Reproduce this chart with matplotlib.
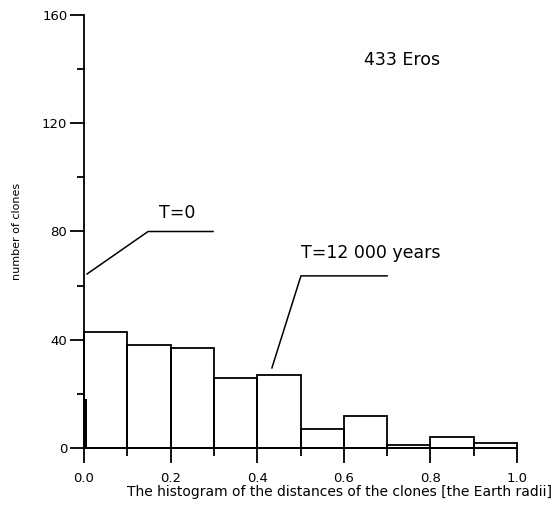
import matplotlib
matplotlib.use("Agg")
import matplotlib.pyplot as plt
import numpy as np

# histogram of clone distances (T = 12 000 years), bins of 0.1 Earth radii
bin_edges = [0.0, 0.1, 0.2, 0.3, 0.4, 0.5, 0.6, 0.7, 0.8, 0.9, 1.0]
counts_12000 = [43, 38, 37, 26, 27, 7, 12, 1, 4, 2]

# T = 0: all clones sit at distance ~0
t0_position = 0.0
t0_count = 18

xticks = [0.0, 0.2, 0.4, 0.6, 0.8, 1.0]
xticklabels = ['0.0', '0.2', '0.4', '0.6', '0.8', '1.0']
yticks = [0, 40, 80, 120, 160]

plt.rcParams['font.family'] = ['DejaVu Sans']

fig = plt.figure(figsize=(5.57, 5.07), dpi=100)
ax = fig.add_axes([0.1508, 0.1164, 0.7774, 0.854])

lw = 1.3
edges = np.array(bin_edges)
ax.bar(edges[:-1], counts_12000, width=np.diff(edges), align='edge',
       fill=False, edgecolor='black', linewidth=lw, clip_on=False)
ax.bar(t0_position, t0_count, width=0.006, align='edge', color='black',
       linewidth=0, clip_on=False)

ax.set_xlim(0, 1.0)
ax.set_ylim(0, 160)

for s in ['top', 'right']:
    ax.spines[s].set_visible(False)
for s in ['left', 'bottom']:
    ax.spines[s].set_linewidth(lw)

ax.set_xticks(xticks)
ax.set_xticklabels(xticklabels)
ax.set_xticks(edges[1::2], minor=True)
ax.set_yticks(yticks)
ax.set_yticks([20, 60, 100, 140], minor=True)

ax.tick_params(axis='x', which='major', length=11, width=lw, pad=6.5, labelsize=9.5)
ax.tick_params(axis='x', which='minor', length=6, width=lw)
ax.tick_params(axis='y', which='major', length=10, width=lw, pad=2, labelsize=9.5)
ax.tick_params(axis='y', which='minor', length=5, width=lw)

ax.set_xlabel('The histogram of the distances of the clones [the Earth radii]', fontsize=10)
ax.xaxis.set_label_coords(0.59, -0.086)
ax.set_ylabel('number of clones', fontsize=8)
ax.yaxis.set_label_coords(-0.143, 0.5)

# annotations
ax.text(0.734, 143.4, '433 Eros', fontsize=12.5, ha='center', va='center')
ax.text(0.215, 86.8, 'T=0', fontsize=12.5, ha='center', va='center')
ax.plot([0.007, 0.148, 0.298], [64.3, 80, 80], color='black', linewidth=1.1)
ax.text(0.663, 72, 'T=12 000 years', fontsize=12.5, ha='center', va='center')
ax.plot([0.434, 0.501, 0.70], [29.6, 63.6, 63.6], color='black', linewidth=1.1)

fig.savefig('out.png', dpi=100)
